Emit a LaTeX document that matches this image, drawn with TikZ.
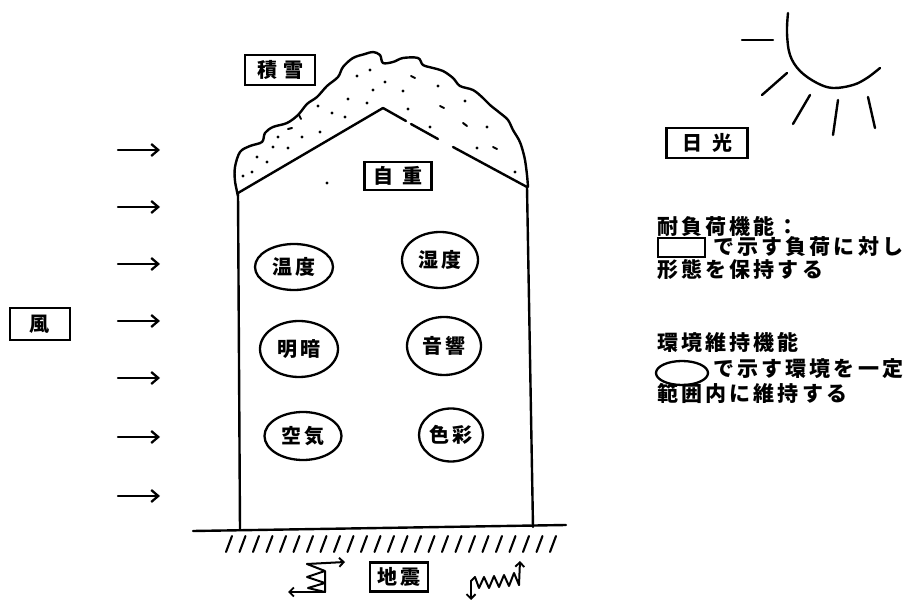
\documentclass[tikz,border=0pt]{standalone}
\usepackage{fontspec}
\newfontfamily\jp[LetterSpace=12]{Noto Sans CJK JP}
\newfontfamily\jpwide[LetterSpace=15]{Noto Sans CJK JP}
\usetikzlibrary{arrows.meta,shapes.geometric}

\begin{document}
\begin{tikzpicture}[x=1pt,y=-1pt,
  ink/.style={line width=2.4pt, line cap=round, line join=round},
  tag/.style={draw, line width=2.1pt, inner sep=0pt, font=\jp\bfseries\fontsize{20}{20}\selectfont},
  blob/.style={draw, ellipse, line width=2.3pt, inner sep=0pt, font=\jp\bfseries\fontsize{20}{20}\selectfont},
  wind/.style={ink, -{Straight Barb[length=7pt,width=12pt,line width=2.3pt]}},
  quake/.style={line width=2pt, line join=round, line cap=round},
  qtip/.style={quake, -{Straight Barb[length=4.5pt,width=9pt,line width=1.9pt]}},
  legend/.style={anchor=west, inner sep=0pt, font=\jpwide\bfseries\fontsize{21}{21}\selectfont},
  snowdot/.style={fill, circle, inner sep=0pt, minimum size=3.2pt}
]
\useasboundingbox (0,0) rectangle (914,601);

% ---- ground and hatching
\coordinate (gl) at (193,531);
\coordinate (gr) at (566,525);
\draw[ink] (gl) -- (gr);
\foreach \i in {0,...,24}
  \draw[ink, line width=2.1pt] ({226+13.5*\i},552) -- ({232+13.5*\i},536);

% ---- walls and roof
\coordinate (eaveL) at (238,193);
\coordinate (eaveR) at (527,187);
\coordinate (ridge) at (383,108);
\draw[ink] (240,530) -- (eaveL);
\draw[ink] (533,527) -- (eaveR);
\draw[ink] (eaveL) -- (ridge);
\draw[ink] (ridge) -- (406,121);
\draw[ink] (411,124) -- (438,139);
\draw[ink] (453,147) -- (eaveR);

% ---- snow cover outline
\draw[ink] plot[smooth, tension=0.55] coordinates {
  (238,196) (235,181) (235,167) (240,152) (250,146) (262,142) (265,133)
  (273,127) (287,123) (298,115) (307,104) (317,97) (327,86) (338,77)
  (343,67) (353,58) (365,54) (373,52) (380,55) (383,63) (393,62)
  (403,58) (418,58) (423,65) (433,68) (443,71) (453,78) (460,86)
  (473,90) (483,98) (490,105) (500,113) (508,120) (513,130) (519,140)
  (522,148) (525,160) (527,175) (528,187)};

% ---- snow speckles
\foreach \px/\py in {243/176,252/172,257/157,267/162,273/147,278/137,
  288/148,302/137,318/106,320/132,332/113,345/117,348/99,
  357/76,367/103,370/70,373/90,385/82,403/91,408/109,
  430/127,438/86,465/101,487/127,477/148,515/172,327/183}
  \node[snowdot] at (\px,\py) {};
\foreach \ax/\ay/\bx/\by in {288/129/292/128,299/115/301/119,411/76/415/78,
  440/106/444/108,463/123/467/126,493/147/497/149}
  \draw[line width=2pt, line cap=round] (\ax,\ay) -- (\bx,\by);

% ---- load labels
\node[tag, minimum width=70pt, minimum height=30pt] (snow) at (280,70) {積\hspace{6pt}雪};
\node[tag, minimum width=67pt, minimum height=28pt] (self) at (398,176) {自\hspace{9pt}重};
\node[tag, minimum width=81pt, minimum height=30pt] (sunlabel) at (707,143) {日\hspace{10pt}光};
\node[tag, minimum width=60pt, minimum height=32pt] (windlabel) at (40,324) {風};
\node[tag, minimum width=58pt, minimum height=29pt] (quakelabel) at (399,577) {地震};

% ---- environment items
\node[blob, minimum width=78pt, minimum height=46pt] (temp)  at (294,267) {温度};
\node[blob, minimum width=76pt, minimum height=56pt] (humid) at (440,260) {湿度};
\node[blob, minimum width=78pt, minimum height=56pt] (light) at (299,349) {明暗};
\node[blob, minimum width=74pt, minimum height=58pt] (sound) at (444,346) {音響};
\node[blob, minimum width=77pt, minimum height=48pt] (air)   at (303,436) {空気};
\node[blob, minimum width=64pt, minimum height=53pt] (colour) at (451,435) {色彩};

% ---- wind
\foreach \y in {150,207,264,321,378,437,496}
  \draw[wind] (118,\y) -- (160,\y);

% ---- sun
\draw[ink] plot[smooth, tension=0.6] coordinates {
  (788,13) (787,33) (790,55) (800,71) (817,83) (833,88) (853,85) (867,78) (880,68)};
\draw[ink] (742,40) -- (773,40);
\draw[ink] (762,95) -- (787,73);
\draw[ink] (793,124) -- (810,95);
\draw[ink] (833,135) -- (838,100);
\draw[ink] (875,128) -- (868,97);

% ---- ground motion, horizontal
\draw[qtip] (307,564) -- (345,562);
\draw[quake] (307,564) -- (325,571) -- (307,577) -- (325,583) -- (308,588) -- (325,592) -- (325,571);
\draw[qtip] (325,592) -- (288,592);

% ---- ground motion, vertical
\draw[qtip] (471,581) -- (471,600);
\draw[quake] (471,581) -- (475,577) -- (479,588) -- (484,577) -- (489,588)
  -- (494,576) -- (499,587) -- (504,575) -- (509,586) -- (514,573) -- (519,585);
\draw[qtip] (519,585) -- (520,561);

% ---- legend
\node[legend] (l1) at (657,227) {耐負荷機能：};
\node[draw, line width=2.1pt, minimum width=47pt, minimum height=19pt, inner sep=0pt] (lbox) at (681.5,247.5) {};
\node[legend] (l2) at (713,247) {で示す負荷に対し};
\node[legend] (l3) at (657,270) {形態を保持する};
\node[legend] (l4) at (657,343) {環境維持機能};
\node[draw, ellipse, line width=2.3pt, minimum width=52pt, minimum height=24pt, inner sep=0pt] (lell) at (682,373) {};
\node[legend] (l5) at (713,369) {で示す環境を一定};
\node[legend] (l6) at (657,393) {範囲内に維持する};
\end{tikzpicture}
\end{document}
